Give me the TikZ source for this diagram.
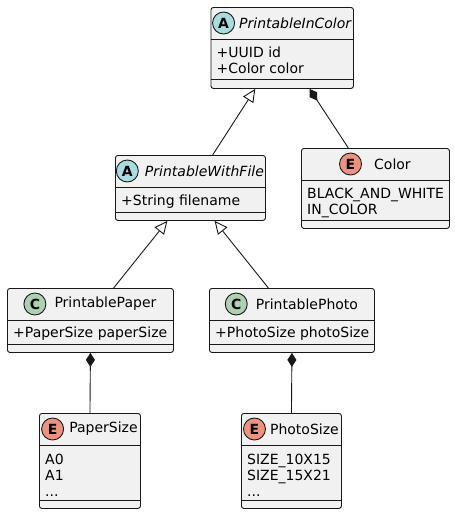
\documentclass[tikz,border=0pt]{standalone}
\usepackage{fontspec}
\setmainfont{DejaVu Sans}
\usetikzlibrary{arrows.meta,positioning,calc}
\definecolor{boxfill}{HTML}{F1F1F1}
\definecolor{boxline}{HTML}{181818}
\definecolor{absfill}{HTML}{A9DCDF}
\definecolor{clsfill}{HTML}{ADD1B2}
\definecolor{enumfill}{HTML}{EB937F}

\begin{document}
\begin{tikzpicture}[x=1pt,y=-1pt,
    umlbox/.style={rectangle,draw=boxline,fill=boxfill,line width=0.9pt,rounded corners=2.5pt,inner sep=0pt,anchor=north west},
    divider/.style={draw=boxline,line width=0.9pt},
    icon/.style={circle,draw=boxline,line width=0.9pt,minimum size=22pt,inner sep=0pt,font=\fontsize{14}{14}\selectfont\bfseries},
    title/.style={inner sep=0pt,font=\fontsize{14}{16}\selectfont},
    abstitle/.style={title,font=\fontsize{14}{16}\selectfont\itshape},
    attr/.style={anchor=west,inner sep=0pt,text height=10pt,text depth=3pt,font=\fontsize{14}{16}\selectfont},
    inherit/.style={draw=boxline,line width=0.9pt,-{Triangle[open,length=13pt,width=12pt,fill=white]}},
    compose/.style={draw=boxline,line width=0.9pt,-{Diamond[length=14pt,width=9pt,fill=boxline]}}
]

\path[fill=white] (0,0) rectangle (455,515);

% Boxes
\node[umlbox,minimum width=142.5pt,minimum height=81pt] (inColor) at (210.5,7) {};
\node[umlbox,minimum width=150pt,minimum height=65pt] (withFile) at (115,155) {};
\node[umlbox,minimum width=148pt,minimum height=80pt] (color) at (301,148) {};
\node[umlbox,minimum width=166pt,minimum height=64pt] (paper) at (7,288) {};
\node[umlbox,minimum width=165pt,minimum height=64pt] (photo) at (209,288) {};
\node[umlbox,minimum width=101pt,minimum height=95pt] (paperSize) at (39,413) {};
\node[umlbox,minimum width=100pt,minimum height=95pt] (photoSize) at (241,413) {};

% Dividers
\foreach \b/\d/\e in {inColor/32/72,withFile/32/57,color/32/72,paper/32/56,photo/32/56,paperSize/32/87,photoSize/32/87} {
    \draw[divider] ($(\b.north west)+(0,\d)$) -- ($(\b.north east)+(0,\d)$);
    \draw[divider] ($(\b.north west)+(0,\e)$) -- ($(\b.north east)+(0,\e)$);
}

% Headers
\node[abstitle] (t1) at ($(inColor.north)+(13,16)$) {PrintableInColor};
\node[icon,fill=absfill,left=4pt of t1] (i1) {A};
\node[abstitle] (t2) at ($(withFile.north)+(14,16)$) {PrintableWithFile};
\node[icon,fill=absfill,left=6pt of t2] (i2) {A};
\node[title] (t3) at ($(color.north)+(17,16)$) {Color};
\node[icon,fill=enumfill,left=12pt of t3] (i3) {E};
\node[title] (t4) at ($(paper.north)+(15,16)$) {PrintablePaper};
\node[icon,fill=clsfill,left=8pt of t4] (i4) {C};
\node[title] (t5) at ($(photo.north)+(15,16)$) {PrintablePhoto};
\node[icon,fill=clsfill,left=8pt of t5] (i5) {C};
\node[title] (t6) at ($(paperSize.north)+(13.5,16)$) {PaperSize};
\node[icon,fill=enumfill,left=5pt of t6] (i6) {E};
\node[title] (t7) at ($(photoSize.north)+(13,16)$) {PhotoSize};
\node[icon,fill=enumfill,left=4pt of t7] (i7) {E};

% Attributes
\node[attr] (a1) at ($(inColor.north west)+(6,46.5)$) {+UUID id};
\node[attr] (a2) at ($(inColor.north west)+(6,63)$) {+Color color};
\node[attr] (a3) at ($(withFile.north west)+(6,46.5)$) {+String filename};
\node[attr] (a4) at ($(color.north west)+(6,46.5)$) {BLACK\_AND\_WHITE};
\node[attr] (a5) at ($(color.north west)+(6,63)$) {IN\_COLOR};
\node[attr] (a6) at ($(paper.north west)+(6,45.5)$) {+PaperSize paperSize};
\node[attr] (a7) at ($(photo.north west)+(6,45.5)$) {+PhotoSize photoSize};
\node[attr] (a8) at ($(paperSize.north west)+(6,47.5)$) {A0};
\node[attr] (a9) at ($(paperSize.north west)+(6,63.5)$) {A1};
\node[attr] (a10) at ($(paperSize.north west)+(6,79.5)$) {...};
\node[attr] (a11) at ($(photoSize.north west)+(6,47.5)$) {SIZE\_10X15};
\node[attr] (a12) at ($(photoSize.north west)+(6,63.5)$) {SIZE\_15X21};
\node[attr] (a13) at ($(photoSize.north west)+(6,79.5)$) {...};

% Connectors
\draw[inherit] ($(withFile.north west)!0.647!(withFile.north east)$) -- ($(inColor.south west)!0.312!(inColor.south east)$);
\draw[compose] ($(color.north west)!0.318!(color.north east)$) -- ($(inColor.south west)!0.691!(inColor.south east)$);
\draw[inherit] ($(paper.north west)!0.639!(paper.north east)$) -- ($(withFile.south west)!0.347!(withFile.south east)$);
\draw[inherit] ($(photo.north west)!0.358!(photo.north east)$) -- ($(withFile.south west)!0.66!(withFile.south east)$);
\draw[compose] (paperSize.north) -- (paper.south);
\draw[compose] (photoSize.north) -- (photo.south);

\end{tikzpicture}
\end{document}
